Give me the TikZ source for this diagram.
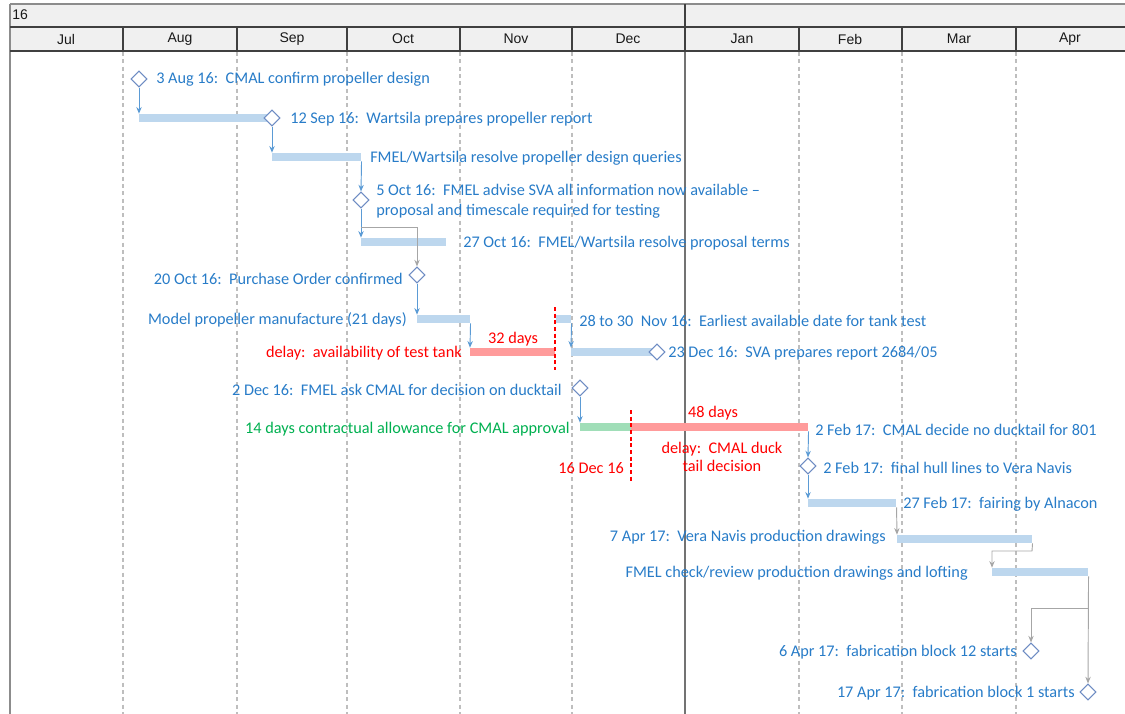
\documentclass[tikz,border=0pt]{standalone}
\usepackage{fontspec}
\setmainfont{Carlito}
\newfontfamily\hdrfont{Liberation Sans}
\usetikzlibrary{shapes.geometric,arrows.meta}
\definecolor{tblue}{RGB}{40,124,200}
\definecolor{lblue}{RGB}{91,155,213}
\definecolor{barblue}{RGB}{189,215,238}
\definecolor{barred}{RGB}{255,155,155}
\definecolor{bargreen}{RGB}{160,222,184}
\definecolor{tred}{RGB}{255,0,0}
\definecolor{tgreen}{RGB}{0,176,80}
\definecolor{dstroke}{RGB}{110,140,195}
\definecolor{hdrfill}{RGB}{240,240,240}
\definecolor{gridgray}{RGB}{190,190,190}
\definecolor{linkgray}{RGB}{166,166,166}
\begin{document}
\begin{tikzpicture}[x=0.75pt,y=-0.75pt,
  txt/.style={inner sep=0pt,yshift=-1.2pt,text=tblue,font=\fontsize{12.2}{15}\selectfont},
  redtxt/.style={txt,text=tred},
  greentxt/.style={txt,text=tgreen},
  hdrtxt/.style={inner sep=0pt,font=\hdrfont\fontsize{10.5}{12}\selectfont,text=black!90},
  w/.style={minimum width=#1*0.75pt},
  barbox/.style={minimum height=6pt,inner sep=0pt,anchor=west,draw=none},
  bbar/.style={barbox,fill=barblue},
  rbar/.style={barbox,fill=barred},
  gbar/.style={barbox,fill=bargreen},
  ms/.style={diamond,draw=dstroke,fill=white,line width=0.8pt,inner sep=0pt,minimum width=12pt,minimum height=12pt},
  blink/.style={draw=lblue,line width=0.7pt,-{Stealth[length=5pt,width=4pt]}},
  glink/.style={draw=linkgray,line width=0.7pt,-{Stealth[length=5pt,width=4pt]}},
  gridline/.style={draw=gridgray,line width=0.8pt,dash pattern=on 3pt off 2.5pt},
  reddash/.style={draw=tred,line width=0.9pt,dash pattern=on 3pt off 2pt},
  hdrline/.style={draw=black!75,line width=1.1pt}
]
\useasboundingbox (0,0) rectangle (1125,714);
% header
\fill[hdrfill] (10,4) rectangle (1125,51);
\foreach \x in {123,237,347,460,572,799,902,1016} \draw[gridline] (\x,52) -- (\x,714);
\draw[draw=black!55,line width=1.1pt] (685,51) -- (685,714);
\draw[draw=black!45,line width=1.1pt] (10,4) -- (10,714);
\draw[draw=black!45,line width=1.4pt] (10,4) -- (1125,4);
\draw[hdrline] (10,27) -- (1125,27);
\draw[hdrline] (10,51) -- (1125,51);
\draw[hdrline] (685,4) -- (685,51);
\foreach \x in {123,237,347,460,572,799,902,1016} \draw[hdrline] (\x,27) -- (\x,51);
\node[hdrtxt,anchor=west] (yr) at (12,15) {16};
\node[hdrtxt] (mJul) at (66,39) {Jul};
\node[hdrtxt] (mAug) at (180,39) {Aug};
\node[hdrtxt] (mSep) at (292,39) {Sep};
\node[hdrtxt] (mOct) at (403,39) {Oct};
\node[hdrtxt] (mNov) at (516,39) {Nov};
\node[hdrtxt] (mDec) at (628,39) {Dec};
\node[hdrtxt] (mJan) at (742,39) {Jan};
\node[hdrtxt] (mFeb) at (850,39) {Feb};
\node[hdrtxt] (mMar) at (959,39) {Mar};
\node[hdrtxt] (mApr) at (1070,39) {Apr};
% bars
\node[bbar,w=133] (b1) at (139,118) {};
\node[bbar,w=89] (b2) at (272,157) {};
\node[bbar,w=85] (b4) at (361,242) {};
\node[bbar,w=53] (b6) at (417,319) {};
\node[rbar,w=85] (r1) at (470,352) {};
\node[bbar,w=15] (b7) at (556,319) {};
\node[bbar,w=86] (b8) at (571,352) {};
\node[gbar,w=51] (g1) at (580,427) {};
\node[rbar,w=177] (r2) at (631,427) {};
\node[bbar,w=88] (b11) at (808,503) {};
\node[bbar,w=135] (b12) at (897,539) {};
\node[bbar,w=96] (b13) at (992,572) {};
% red dashed markers
\coordinate (rd1a) at (555,307); \coordinate (rd1b) at (555,370);
\draw[reddash] (rd1a) -- (rd1b);
\coordinate (rd2a) at (631,410); \coordinate (rd2b) at (631,482);
\draw[reddash] (rd2a) -- (rd2b);
% milestones
\node[ms] (d1) at (139,79) {};
\node[ms] (d2) at (272,118) {};
\node[ms] (d3) at (361,200) {};
\node[ms] (d5) at (417,275) {};
\node[ms] (d8) at (657,352) {};
\node[ms] (d9) at (580,388) {};
\node[ms] (d10) at (808,466) {};
\node[ms] (d14) at (1031,651) {};
\node[ms] (d15) at (1088,692) {};
% connectors
\draw[blink] (d1.south) -- (b1.north west);
\draw[blink] (d2.south) -- (b2.north west);
\draw[blink] (b2.south east) -- (d3.north);
\draw[blink] (d3.south) -- (b4.north west);
\coordinate (j1) at (361,227);
\draw[glink] (j1) -| (d5.north);
\draw[blink] (d5.south) -- (b6.north west);
\draw[blink] (b6.south east) -- (r1.north west);
\draw[blink] (b7.south east) -- (b8.north west);
\draw[blink] (d9.south) -- (g1.north west);
\draw[blink] (r2.south east) -- (d10.north);
\draw[blink] (d10.south) -- (b11.north west);
\draw[glink] (b11.south east) -- (b12.north west);
\coordinate (j2) at (1032,551);
\draw[glink] (b12.south east) -- (j2) -| (b13.north west);
\draw[glink] (b13.south east) -- (d15.north);
\coordinate (j3) at (1088,608);
\draw[glink] (j3) -| (d14.north);
% labels
\node[txt,anchor=west] (l1) at (156,78) {3 Aug 16:~~CMAL confirm propeller design};
\node[txt,anchor=west] (l2) at (290,118) {12 Sep 16:~~Wartsila prepares propeller report};
\node[txt,anchor=west] (l3) at (370,157) {FMEL/Wartsila resolve propeller design queries};
\node[txt,anchor=west,align=left] (l4) at (376,200) {5 Oct 16:~~FMEL advise SVA all information now available –\\proposal and timescale required for testing};
\node[txt,anchor=west] (l5) at (463,242) {27 Oct 16:~~FMEL/Wartsila resolve proposal terms};
\node[txt,anchor=east] (l6) at (403,277) {20 Oct 16:~~Purchase Order confirmed};
\node[txt,anchor=east] (l7) at (407,318) {Model propeller manufacture (21 days)};
\node[redtxt,anchor=east] (l8) at (462,352) {delay:~~availability of test tank};
\node[redtxt] (l9) at (513,338) {32 days};
\node[txt,anchor=west] (l10) at (579,319) {28 to 30~~Nov 16:~~Earliest available date for tank test};
\node[txt,anchor=west] (l11) at (668,352) {23 Dec 16:~~SVA prepares report 2684/05};
\node[txt,anchor=east] (l12) at (562,388) {2 Dec 16:~~FMEL ask CMAL for decision on ducktail};
\node[greentxt,anchor=east] (l13) at (570,428) {14 days contractual allowance for CMAL approval};
\node[redtxt] (l14) at (713,412) {48 days};
\node[redtxt,align=center,font=\fontsize{12.2}{13.5}\selectfont] (l15) at (722,455) {delay:~~CMAL duck\\tail decision};
\node[redtxt,anchor=east] (l16) at (624,466) {16 Dec 16};
\node[txt,anchor=west] (l17) at (815,428) {2 Feb 17:~~CMAL decide no ducktail for 801};
\node[txt,anchor=west] (l18) at (823,466) {2 Feb 17:~~final hull lines to Vera Navis};
\node[txt,anchor=west] (l19) at (903,503) {27 Feb 17:~~fairing by Alnacon};
\node[txt,anchor=east] (l20) at (886,536) {7 Apr 17:~~Vera Navis production drawings};
\node[txt,anchor=east] (l21) at (968,572) {FMEL check/review production drawings and lofting};
\node[txt,anchor=east] (l22) at (1017,651) {6 Apr 17:~~fabrication block 12 starts};
\node[txt,anchor=east] (l23) at (1075,692) {17 Apr 17:~~fabrication block 1 starts};
\end{tikzpicture}
\end{document}
